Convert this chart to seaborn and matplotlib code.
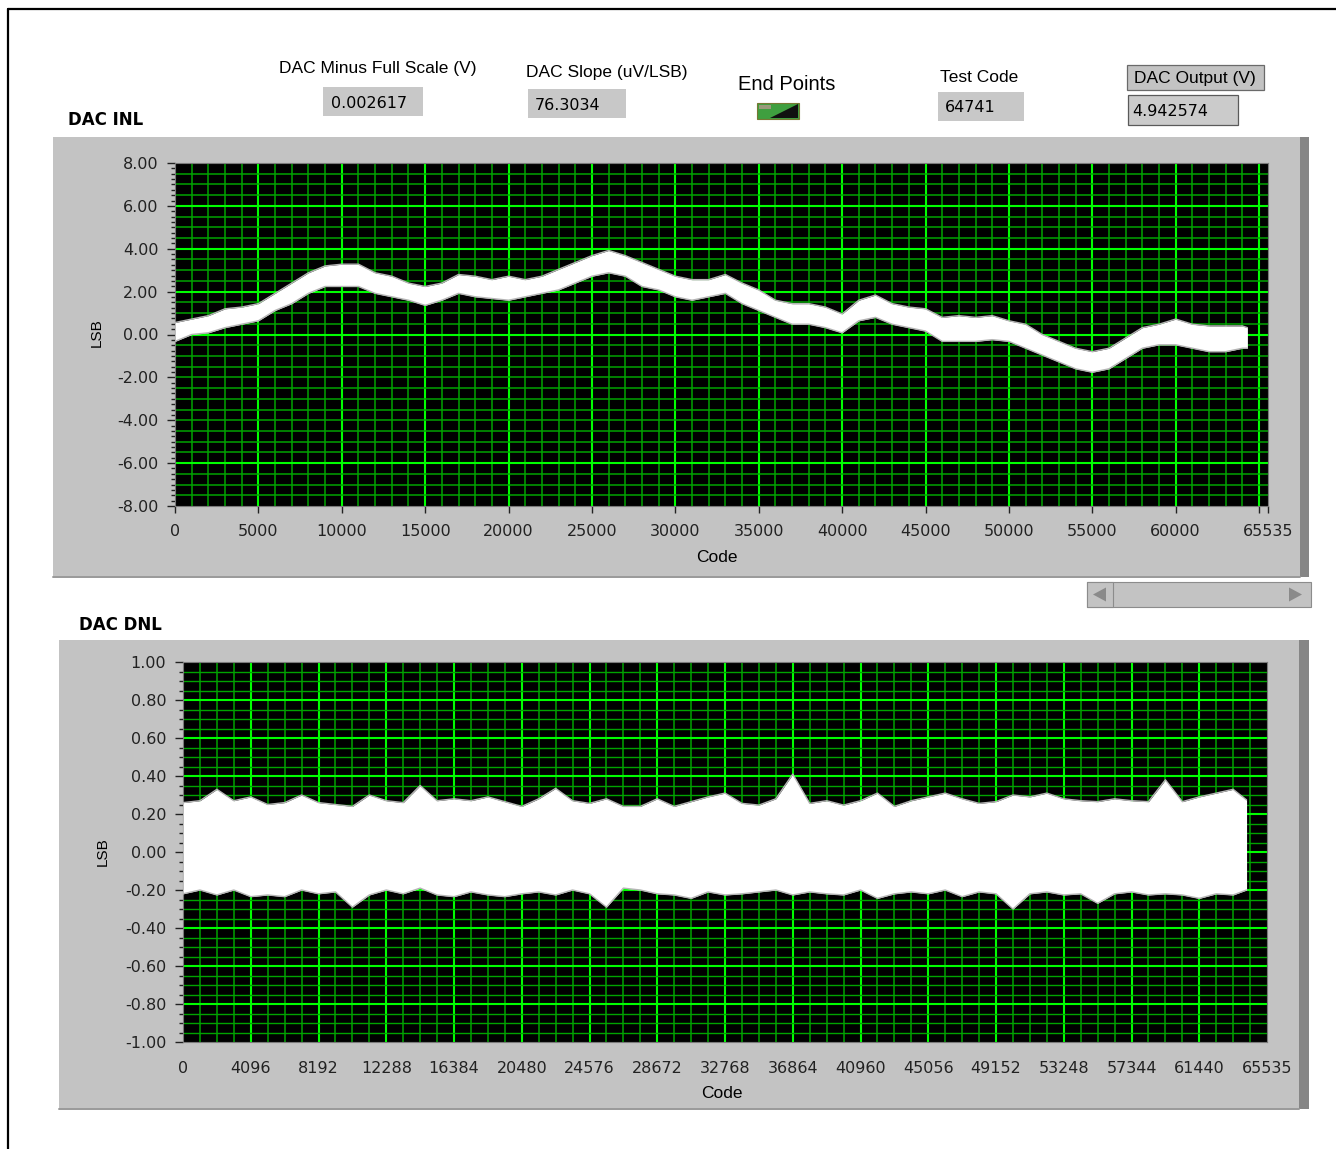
import matplotlib
matplotlib.use("Agg")
import matplotlib.pyplot as plt
import seaborn as sns
from matplotlib.patches import Rectangle, Polygon
from matplotlib.lines import Line2D
from matplotlib.ticker import FixedLocator, MultipleLocator

# ---------------- data ----------------
# DAC INL: white noisy band, upper / lower envelope (LSB) every 1000 codes
inl_codes = list(range(0, 64001, 1000)) + [64300]
inl_upper = [0.56, 0.72, 0.88, 1.20, 1.28, 1.44, 1.92, 2.40, 2.88, 3.20,
             3.28, 3.28, 2.88, 2.72, 2.40, 2.24, 2.40, 2.80, 2.72, 2.56,
             2.72, 2.56, 2.72, 3.04, 3.36, 3.68, 3.92, 3.68, 3.36, 3.04,
             2.72, 2.56, 2.56, 2.80, 2.40, 2.08, 1.60, 1.44, 1.44, 1.28,
             0.96, 1.60, 1.84, 1.44, 1.28, 1.20, 0.80, 0.88, 0.80, 0.88,
             0.64, 0.48, 0.00, -0.32, -0.64, -0.80, -0.64, -0.16, 0.32, 0.48,
             0.72, 0.48, 0.40, 0.40, 0.40, 0.32]
inl_lower = [-0.32, 0.00, 0.08, 0.32, 0.48, 0.64, 1.12, 1.44, 1.92, 2.24,
             2.24, 2.24, 1.92, 1.76, 1.60, 1.36, 1.60, 1.92, 1.76, 1.68,
             1.60, 1.76, 1.92, 2.08, 2.40, 2.72, 2.88, 2.72, 2.24, 2.08,
             1.76, 1.60, 1.76, 1.92, 1.44, 1.12, 0.80, 0.48, 0.48, 0.32,
             0.08, 0.64, 0.80, 0.48, 0.32, 0.16, -0.32, -0.32, -0.32, -0.24,
             -0.32, -0.64, -0.96, -1.28, -1.60, -1.76, -1.60, -1.12, -0.64, -0.48,
             -0.48, -0.64, -0.80, -0.80, -0.64, -0.64]

# DAC DNL: white band, upper / lower envelope (LSB) every 1024 codes
dnl_codes = list(range(0, 63489, 1024)) + [64300]
dnl_upper = [0.26, 0.27, 0.33, 0.27, 0.29, 0.25, 0.26, 0.30, 0.26, 0.25, 0.24, 0.30, 0.27, 0.26, 0.35, 0.27,
             0.28, 0.27, 0.29, 0.265, 0.24, 0.28, 0.335, 0.27, 0.256, 0.28, 0.24, 0.24, 0.28, 0.24, 0.265, 0.29,
             0.31, 0.256, 0.247, 0.28, 0.41, 0.256, 0.27, 0.247, 0.27, 0.31, 0.24, 0.27, 0.29, 0.31, 0.28, 0.256,
             0.265, 0.30, 0.29, 0.31, 0.28, 0.27, 0.265, 0.28, 0.27, 0.265, 0.38, 0.265, 0.29, 0.31, 0.33, 0.274]
dnl_lower = [-0.22, -0.20, -0.226, -0.20, -0.235, -0.226, -0.235, -0.20, -0.22, -0.21, -0.29, -0.226, -0.20, -0.22, -0.19, -0.226,
             -0.235, -0.21, -0.226, -0.235, -0.22, -0.21, -0.226, -0.20, -0.22, -0.29, -0.19, -0.20, -0.22, -0.226, -0.244, -0.21,
             -0.226, -0.22, -0.21, -0.20, -0.226, -0.21, -0.22, -0.226, -0.20, -0.244, -0.22, -0.21, -0.22, -0.20, -0.235, -0.21,
             -0.22, -0.30, -0.22, -0.21, -0.226, -0.22, -0.27, -0.22, -0.21, -0.226, -0.22, -0.226, -0.244, -0.22, -0.226, -0.20]

inl_xticks = [0, 5000, 10000, 15000, 20000, 25000, 30000, 35000, 40000, 45000,
              50000, 55000, 60000, 65000, 65535]
inl_xticklabels = ["0", "5000", "10000", "15000", "20000", "25000", "30000", "35000",
                   "40000", "45000", "50000", "55000", "60000", "", "65535"]
inl_yticks = [8, 6, 4, 2, 0, -2, -4, -6, -8]
inl_yticklabels = ["8.00", "6.00", "4.00", "2.00", "0.00", "-2.00", "-4.00", "-6.00", "-8.00"]

dnl_xticks = [0, 4096, 8192, 12288, 16384, 20480, 24576, 28672, 32768, 36864,
              40960, 45056, 49152, 53248, 57344, 61440, 65535]
dnl_xticklabels = [str(v) for v in dnl_xticks]
dnl_yticks = [1.0, 0.8, 0.6, 0.4, 0.2, 0.0, -0.2, -0.4, -0.6, -0.8, -1.0]
dnl_yticklabels = ["1.00", "0.80", "0.60", "0.40", "0.20", "0.00", "-0.20",
                   "-0.40", "-0.60", "-0.80", "-1.00"]

readout_labels = ["DAC Minus Full Scale (V)", "DAC Slope (uV/LSB)", "Test Code", "DAC Output (V)"]
readout_values = ["0.002617", "76.3034", "64741", "4.942574"]

# ---------------- figure ----------------
sns.set_theme(style="white")
plt.rcParams['font.family'] = ['DejaVu Sans']

W, H = 1336, 1149
fig = plt.figure(figsize=(W / 100, H / 100), dpi=100)
fig.patch.set_facecolor('white')

PANEL = '#c3c3c3'
BOX = '#c8c8c8'
DARK = '#868686'
LBL = 'Liberation Sans'


def fx(x):
    return x / W


def fy(y):
    return 1 - y / H


def rect(x0, y0, x1, y1, fc, ec='none', lw=0.0, z=0.5):
    r = Rectangle((fx(x0), fy(y1)), (x1 - x0) / W, (y1 - y0) / H,
                  transform=fig.transFigure, facecolor=fc, edgecolor=ec,
                  linewidth=lw, zorder=z)
    fig.add_artist(r)


def seg(x0, y0, x1, y1, color, lw=1.0, z=0.6):
    fig.add_artist(Line2D([fx(x0), fx(x1)], [fy(y0), fy(y1)],
                          transform=fig.transFigure, color=color, lw=lw, zorder=z))


def poly(pts, color, z=0.7):
    fig.add_artist(Polygon([(fx(a), fy(b)) for a, b in pts], closed=True,
                           transform=fig.transFigure, facecolor=color,
                           edgecolor='none', zorder=z))


def ftext(x, y, s, **kw):
    kw.setdefault('ha', 'center')
    kw.setdefault('va', 'center')
    kw.setdefault('color', 'black')
    fig.text(fx(x), fy(y), s, zorder=3, **kw)


# outer border
seg(8, 9, 1336, 9, 'black', lw=1.6)
seg(8, 9, 8, 1149, 'black', lw=1.6)

# panels
rect(53, 137, 1300, 576, PANEL)
rect(1300, 137, 1309, 577, DARK)
seg(53, 576.5, 1300, 576.5, '#999999', lw=1.4)
rect(59, 640, 1299, 1108, PANEL)
rect(1299, 640, 1309, 1109, DARK)
seg(59, 1108.5, 1299, 1108.5, '#999999', lw=1.4)

# scrollbar
rect(1087, 582, 1311, 607, PANEL, ec='#8c8c8c', lw=0.8)
rect(1087, 582, 1113, 607, PANEL, ec='#8c8c8c', lw=0.8)
poly([(1093, 594.5), (1106, 587.5), (1106, 601.5)], '#8a8a8a')
poly([(1302, 594.5), (1289, 587.5), (1289, 601.5)], '#8a8a8a')

# header readouts
ftext(378, 69, readout_labels[0], fontsize=12.5, family=LBL)
rect(323, 87, 423, 116, BOX)
ftext(331, 103, readout_values[0], ha='left', fontsize=11.5)

ftext(607, 73, readout_labels[1], fontsize=12.5, family=LBL)
rect(528, 89, 626, 118, BOX)
ftext(535, 105, readout_values[1], ha='left', fontsize=11.5)

ftext(787, 85, "End Points", fontsize=14.5, family=LBL)
rect(757, 103, 799, 119, '#3f9f3f', ec='#777733', lw=0.8)
poly([(770, 118), (798, 104), (798, 118)], '#101010')
rect(759, 105, 771, 109, '#9a9a7a')

ftext(979, 77, readout_labels[2], fontsize=12.5, family=LBL)
rect(938, 92, 1024, 121, BOX)
ftext(945, 108, readout_values[2], ha='left', fontsize=11.5)

rect(1127, 65, 1264, 90, PANEL, ec='#6a6a6a', lw=0.9)
ftext(1195, 78, readout_labels[3], fontsize=12.5, family=LBL)
rect(1128, 95, 1238, 125, '#cbcbcb', ec='#5a5a5a', lw=0.9)
ftext(1132, 111, readout_values[3], ha='left', fontsize=11.5)

ftext(68, 120, "DAC INL", ha='left', fontsize=12, fontweight='bold')
ftext(79, 625, "DAC DNL", ha='left', fontsize=12, fontweight='bold')

ftext(97, 333, "LSB", rotation=90, fontsize=11, family=LBL)
ftext(717, 557, "Code", fontsize=12.5, family=LBL)
ftext(103, 852, "LSB", rotation=90, fontsize=11, family=LBL)
ftext(722, 1093, "Code", fontsize=12.5, family=LBL)

MAJ = '#00ff00'
MIN = '#00a400'


def style_axes(ax):
    ax.set_facecolor('black')
    ax.set_zorder(2)
    for s in ax.spines.values():
        s.set_color('#7a7a7a')
        s.set_linewidth(0.8)
    ax.grid(False)
    ax.set_xlabel("")
    ax.set_ylabel("")


# ---------------- INL plot ----------------
ax1 = fig.add_axes([fx(175), fy(506), (1268 - 175) / W, (506 - 163) / H])
style_axes(ax1)
ax1.set_xlim(0, 65535)
ax1.set_ylim(-8, 8)
for c in range(1000, 65535, 1000):
    major = c % 5000 == 0
    ax1.axvline(c, color=MAJ if major else MIN, lw=1.5 if major else 1.1, zorder=1)
for v in [7.5, 7, 6.5, 6, 5.5, 5, 4.5, 4, 3.5, 3, 2.5, 2, 1.5, 1, 0.5, 0,
          -0.5, -1, -1.5, -2, -2.5, -3, -3.5, -4, -4.5, -5, -5.5, -6, -6.5, -7, -7.5]:
    major = v in (6, 4, 2, 0, -6)
    ax1.axhline(v, color=MAJ if major else MIN, lw=1.5 if major else 1.1, zorder=1)

ax1.fill_between(inl_codes, inl_lower, inl_upper, color='white', lw=0, zorder=3)
sns.lineplot(x=inl_codes, y=inl_upper, ax=ax1, color='#b5b5b5', lw=1.0, zorder=4)
sns.lineplot(x=inl_codes, y=inl_lower, ax=ax1, color='#b5b5b5', lw=1.0, zorder=4)
ax1.set_xlim(0, 65535)
ax1.set_ylim(-8, 8)
ax1.xaxis.set_major_locator(FixedLocator(inl_xticks))
ax1.set_xticklabels(inl_xticklabels)
ax1.yaxis.set_major_locator(FixedLocator(inl_yticks))
ax1.set_yticklabels(inl_yticklabels)
ax1.yaxis.set_minor_locator(MultipleLocator(0.25))
ax1.tick_params(axis='x', which='major', bottom=True, direction='out', length=5,
                width=1, pad=8, labelsize=11.5, colors='#222222')
ax1.tick_params(axis='y', which='major', left=True, direction='out', length=6,
                width=1, pad=6, labelsize=11.5, colors='#222222')
ax1.tick_params(axis='y', which='minor', left=True, direction='out', length=3,
                width=1, colors='#222222')
ax1.set_xlabel("")
ax1.set_ylabel("")

# ---------------- DNL plot ----------------
ax2 = fig.add_axes([fx(183), fy(1042), (1267 - 183) / W, (1042 - 662) / H])
style_axes(ax2)
for c in range(1024, 65535, 1024):
    major = c % 4096 == 0
    ax2.axvline(c, color=MAJ if major else MIN, lw=1.5 if major else 1.1, zorder=1)
for i in range(-19, 20):
    v = i * 0.05
    major = i % 4 == 0
    ax2.axhline(v, color=MAJ if major else MIN, lw=1.5 if major else 1.0, zorder=1)

ax2.fill_between(dnl_codes, dnl_lower, dnl_upper, color='white', lw=0, zorder=3)
sns.lineplot(x=dnl_codes, y=dnl_upper, ax=ax2, color='#b5b5b5', lw=1.0, zorder=4)
sns.lineplot(x=dnl_codes, y=dnl_lower, ax=ax2, color='#b5b5b5', lw=1.0, zorder=4)
ax2.set_xlim(0, 65535)
ax2.set_ylim(-1, 1)
ax2.xaxis.set_major_locator(FixedLocator(dnl_xticks))
ax2.set_xticklabels(dnl_xticklabels)
ax2.yaxis.set_major_locator(FixedLocator(dnl_yticks))
ax2.set_yticklabels(dnl_yticklabels)
ax2.yaxis.set_minor_locator(MultipleLocator(0.05))
ax2.tick_params(axis='x', which='major', bottom=True, length=0, pad=14,
                labelsize=11.5, colors='#222222')
ax2.tick_params(axis='y', which='major', left=True, direction='out', length=6,
                width=1, pad=6, labelsize=11.5, colors='#222222')
ax2.tick_params(axis='y', which='minor', left=True, direction='out', length=3,
                width=1, colors='#222222')
ax2.set_xlabel("")
ax2.set_ylabel("")

fig.savefig("out.png", dpi=100, facecolor='white')
